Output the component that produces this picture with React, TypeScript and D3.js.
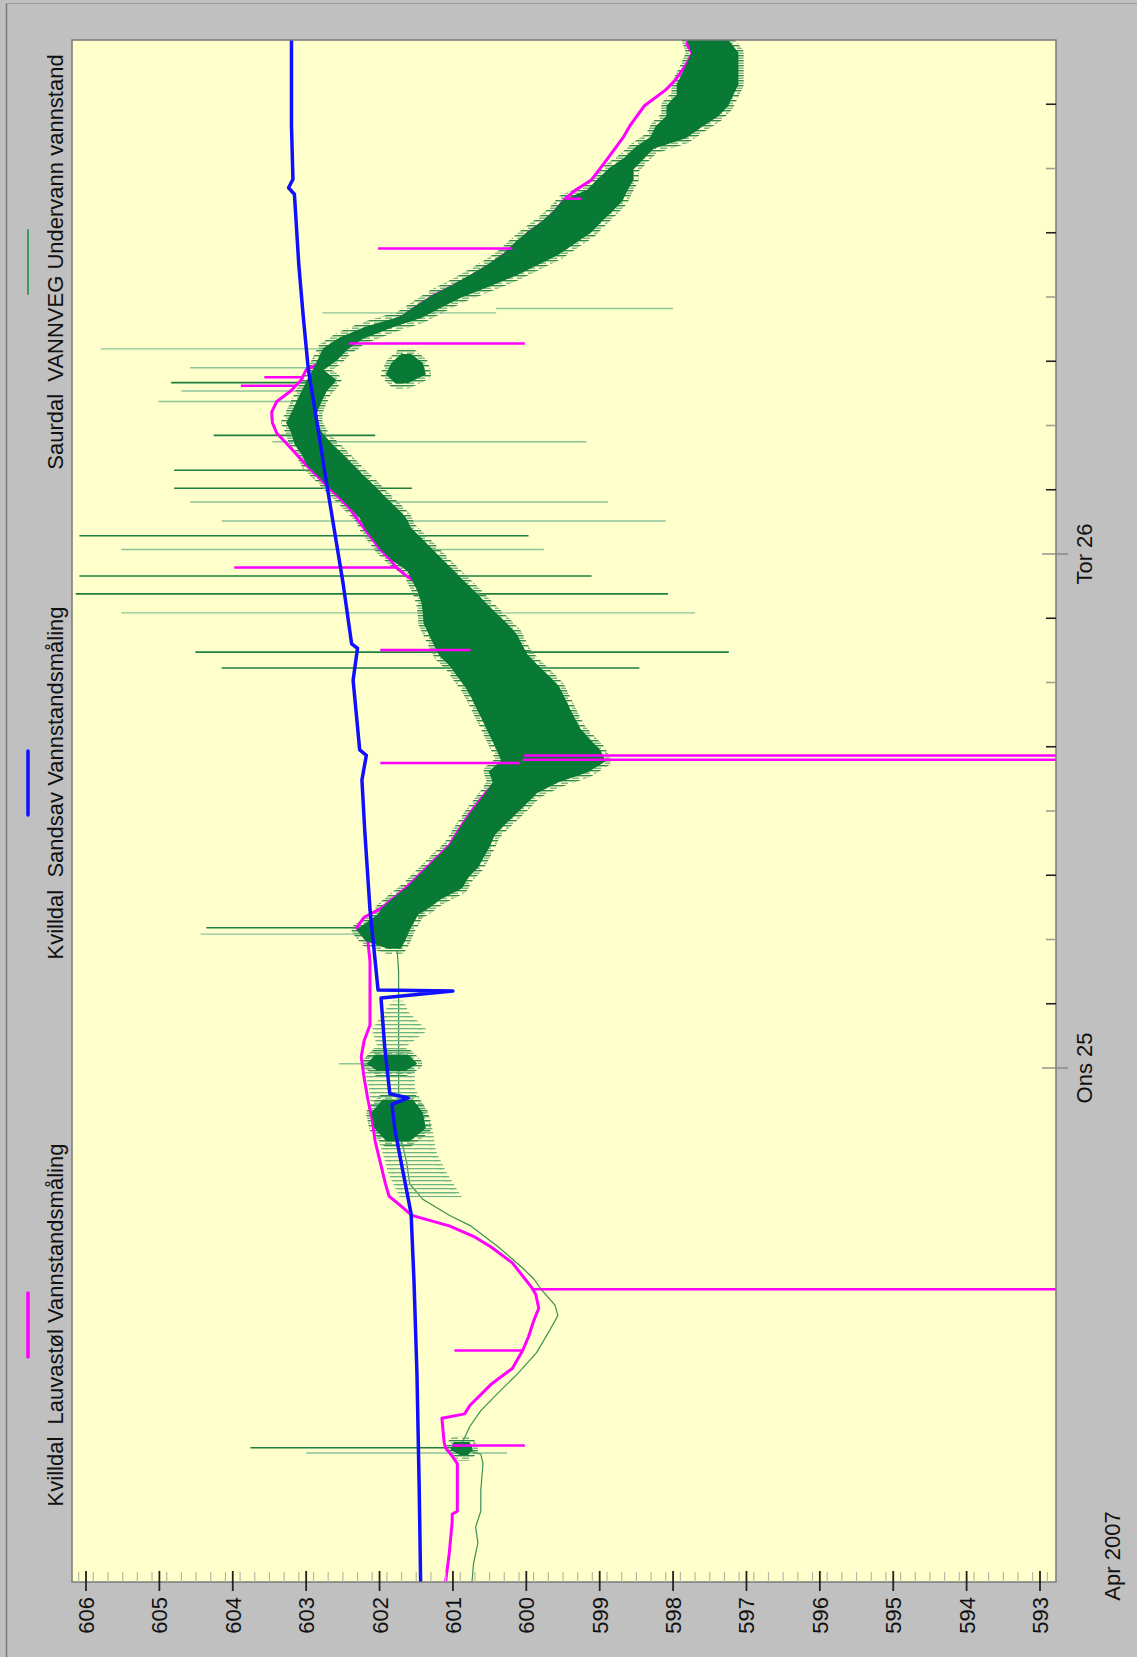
import React from 'react';
import * as d3 from 'd3';

// time = hours since Tir 24 Apr 2007 00:00, value = water level (m)
const sandsav: [number, number][] = [
  [0, 601.44], [4.5, 601.46], [9.7, 601.49], [14, 601.53], [17.2, 601.57], [19.5, 601.7],
  [21.1, 601.79], [22.3, 601.83], [22.6, 601.61], [22.8, 601.86], [25, 601.93], [27.27, 601.98],
  [27.6, 601.0], [27.64, 602.02], [31.4, 602.13], [35, 602.2], [37.45, 602.24], [38.6, 602.18],
  [38.85, 602.27], [42.1, 602.36], [43.6, 602.3], [43.8, 602.38], [46.7, 602.5], [49.2, 602.62],
  [51.7, 602.74], [54.1, 602.85], [56.6, 602.97], [59.1, 603.04], [61.5, 603.1], [64.8, 603.16],
  [65.1, 603.24], [65.5, 603.18], [68, 603.2], [72, 603.2],
];

const lauvastol: [number, number][] = [
  [0, 601.1], [1.34, 601.05], [2.82, 601.01], [3.16, 601.01], [3.31, 600.94], [5.53, 600.94],
  [5.88, 601.01], [6.27, 601.1], [6.52, 601.12], [7.65, 601.15], [7.85, 600.84], [8.24, 600.77],
  [9.23, 600.48], [9.97, 600.19], [10.81, 600.05], [11.45, 599.97], [12.19, 599.9], [12.78, 599.83],
  [13.42, 599.87], [13.77, 599.93], [14.16, 600.02], [14.9, 600.19], [15.64, 600.48], [16.14, 600.72],
  [16.63, 601.05], [17.12, 601.56], [17.62, 601.73], [18.01, 601.87], [18.6, 601.92], [19.59, 601.99],
  [20.58, 602.06], [21.57, 602.1], [22.55, 602.16], [23.54, 602.21], [24.53, 602.25], [25.27, 602.21],
  [26.01, 602.13], [27.49, 602.13], [28.97, 602.13], [29.95, 602.16], [30.55, 602.31], [31.04, 602.21],
  [31.43, 601.99], [32.03, 601.77], [32.67, 601.56], [33.65, 601.27], [34.39, 601.05], [35.38, 600.87],
  [36.12, 600.72], [36.86, 600.55], [37.6, 600.33], [38.24, 600.09], [38.74, 600.02], [39.33, 600.12],
  [40.32, 600.29], [41.3, 600.43], [42.29, 600.58], [43.28, 600.72], [44.26, 600.84], [45.25, 601.05],
  [45.99, 601.27], [46.48, 601.41], [46.97, 601.63], [47.37, 601.77], [47.72, 601.85], [48.21, 601.99],
  [49.2, 602.21], [50.18, 602.42], [51.17, 602.71], [52.16, 603.0], [53.14, 603.26], [53.64, 603.4],
  [54.13, 603.46], [54.62, 603.47], [55.12, 603.4], [55.61, 603.21], [56.11, 603.07], [56.6, 603.0],
  [57.09, 602.71], [57.83, 602.42], [58.32, 602.21], [59.06, 601.7], [59.56, 601.49], [60.05, 601.27],
  [60.54, 600.98], [60.79, 600.84], [61.53, 600.48], [62.02, 600.29], [62.27, 600.19], [63.01, 599.97],
  [63.51, 599.76], [64.0, 599.61], [64.59, 599.47], [64.99, 599.33], [65.48, 599.11], [66.47, 598.89],
  [67.45, 598.68], [68.04, 598.58], [68.93, 598.39], [69.67, 598.1], [70.17, 597.96], [70.91, 597.81],
  [71.4, 597.74], [71.79, 597.81], [72.04, 597.79],
];

// hour, value on the curve, value of the spike
const lauvastolSpikes: [number, number, number][] = [
  [6.37, 601.01, 600.02], [10.81, 600.05, 600.98], [13.67, 599.93, 592.5], [38.24, 600.09, 601.99],
  [38.39, 600.05, 592.5], [38.59, 600.03, 592.5], [43.52, 600.76, 601.99], [47.37, 601.77, 603.98],
  [55.86, 603.14, 603.89], [56.25, 603.05, 603.57], [57.83, 602.42, 600.02], [62.27, 600.19, 602.02],
  [64.59, 599.47, 599.25],
];

const undervannLine: [number, number][] = [
  [0, 600.74], [0.84, 600.72], [1.83, 600.66], [2.57, 600.69], [3.31, 600.62], [4.3, 600.62],
  [5.53, 600.59], [5.97, 600.62], [6.17, 600.84], [6.52, 600.87], [7.26, 600.77], [8.0, 600.62],
  [8.74, 600.41], [9.72, 600.12], [10.71, 599.86], [11.7, 599.69], [12.44, 599.57], [12.93, 599.61],
  [13.67, 599.8], [14.16, 599.9], [14.66, 600.05], [15.64, 600.38], [16.63, 600.76], [17.12, 601.05],
  [17.87, 601.41], [18.6, 601.59], [19.59, 601.63], [20.58, 601.7], [23.0, 601.74], [26.5, 601.74],
  [28.5, 601.74], [29.5, 601.76],
];

// sparse, light part of the noise (hour, upper value, lower value)
const undervannSparse: [number, number, number][] = [
  [18.1, 601.7, 600.95], [19.1, 601.84, 601.13], [20.08, 601.92, 601.27], [21.57, 602.06, 601.34],
  [23.04, 602.1, 601.56], [24.28, 602.2, 601.56], [25.02, 601.99, 601.7], [25.76, 602.06, 601.41],
  [26.5, 601.92, 601.63], [27.0, 601.8, 601.7],
];

// dense clusters outside the main band
const undervannClusters: [number, number, number][][] = [
  [[5.95, 600.9, 600.8], [6.2, 601.02, 600.74], [6.5, 600.98, 600.78]],
  [[20.6, 601.9, 601.6], [21.2, 602.06, 601.38], [21.9, 602.1, 601.42], [22.5, 601.95, 601.55]],
  [[23.9, 602.02, 601.65], [24.2, 602.16, 601.5], [24.6, 602.05, 601.62]],
  [[29.6, 601.88, 601.72], [29.95, 602.18, 601.66], [30.45, 602.3, 601.6], [30.94, 602.1, 601.52], [31.2, 602.0, 601.48]],
  [[56.0, 601.78, 601.62], [56.4, 601.9, 601.38], [56.9, 601.83, 601.42], [57.3, 601.7, 601.57]],
];

// hour, upper value, lower value of the dense noise band
const undervannBand: [number, number, number][] = [
  [31.2, 602.0, 601.48], [31.43, 601.97, 601.36], [31.93, 601.8, 601.16], [32.42, 601.62, 600.88],
  [32.91, 601.48, 600.8], [33.41, 601.33, 600.66], [33.9, 601.19, 600.58], [34.39, 601.04, 600.5],
  [34.89, 600.95, 600.44], [35.38, 600.86, 600.3], [35.87, 600.76, 600.15], [36.37, 600.65, 600.0],
  [36.86, 600.54, 599.86], [37.35, 600.45, 599.58], [37.85, 600.5, 599.16], [38.34, 600.33, 598.93],
  [38.83, 600.39, 599.0], [39.33, 600.46, 599.14], [39.82, 600.53, 599.27], [40.32, 600.6, 599.35],
  [40.81, 600.67, 599.42], [41.3, 600.74, 599.49], [41.79, 600.82, 599.56], [42.29, 600.93, 599.7],
  [42.78, 601.03, 599.85], [43.28, 601.18, 599.99], [43.77, 601.25, 600.07], [44.26, 601.32, 600.14],
  [44.76, 601.39, 600.28], [45.25, 601.4, 600.43], [45.74, 601.42, 600.57], [46.24, 601.47, 600.71],
  [46.73, 601.54, 600.86], [47.22, 601.61, 601.0], [47.72, 601.82, 601.15], [48.21, 601.97, 601.29],
  [48.7, 602.08, 601.43], [49.2, 602.19, 601.58], [49.69, 602.26, 601.65], [50.18, 602.4, 601.79],
  [50.68, 602.54, 601.94], [51.17, 602.69, 602.08], [51.66, 602.83, 602.23], [52.16, 602.98, 602.37],
  [52.65, 603.05, 602.51], [53.14, 603.15, 602.66], [53.64, 603.19, 602.79], [54.13, 603.26, 602.86],
  [54.62, 603.19, 602.86], [55.12, 603.12, 602.8], [55.61, 603.05, 602.73], [56.11, 602.98, 602.6],
  [56.6, 602.9, 602.78], [57.09, 602.83, 602.58], [57.58, 602.76, 602.44], [58.08, 602.54, 602.23],
  [58.57, 602.2, 601.86], [59.06, 601.72, 601.43], [59.56, 601.5, 601.15], [60.05, 601.28, 600.86],
  [60.54, 601.0, 600.5], [61.04, 600.74, 600.14], [61.53, 600.5, 599.85], [62.02, 600.3, 599.56],
  [62.52, 600.15, 599.35], [63.01, 599.98, 599.13], [63.51, 599.78, 598.99], [64.0, 599.62, 598.84],
  [64.49, 599.5, 598.7], [64.99, 599.16, 598.63], [65.48, 599.02, 598.55], [65.97, 598.87, 598.55],
  [66.47, 598.66, 598.41], [66.96, 598.51, 598.27], [67.45, 598.3, 597.83], [67.95, 598.23, 597.62],
  [68.44, 598.08, 597.4], [68.93, 598.08, 597.26], [69.43, 597.94, 597.19], [69.92, 597.94, 597.12],
  [70.41, 597.87, 597.12], [70.91, 597.8, 597.12], [71.4, 597.74, 597.12], [72.0, 597.8, 597.26],
];

// hour, from value, to value, dark (1) or light (0)
const undervannSpikes: [number, number, number, number][] = [
  [6.27, 603.76, 600.84, 1], [6.02, 603.0, 600.26, 0], [30.55, 604.36, 601.7, 1], [30.25, 604.44, 601.99, 0],
  [31.83, 601.92, 601.2, 0], [24.2, 602.55, 601.6, 0], [42.68, 604.15, 598.46, 1], [43.42, 604.51, 597.24, 1],
  [45.25, 605.52, 597.7, 0], [46.14, 606.14, 598.07, 1], [46.97, 606.09, 599.11, 1], [48.21, 605.52, 599.76, 0],
  [48.85, 606.09, 599.97, 1], [49.54, 604.15, 598.1, 0], [50.43, 604.58, 598.89, 0], [51.07, 604.8, 601.56, 1],
  [51.91, 604.8, 602.78, 1], [53.24, 603.46, 599.18, 0], [53.54, 604.26, 602.06, 1], [55.12, 605.01, 602.85, 0],
  [55.61, 604.7, 602.85, 0], [56.0, 604.84, 602.85, 1], [56.7, 604.58, 602.71, 0], [57.58, 605.8, 602.28, 0],
  [59.26, 602.78, 600.41, 0], [59.46, 600.41, 598.0, 0],
];

const valueTicks = d3.range(593, 607);
const minorTicks = d3.range(5929, 6062, 2).map(d => d / 10).filter(d => Math.abs(d - Math.round(d)) > 0.01);
const dayTicks = [
  { hour: 24, label: 'Ons 25' },
  { hour: 48, label: 'Tor 26' },
];
const hourTicks = [27, 30, 33, 36, 39, 42, 45, 51, 54, 57, 60, 63, 66, 69];

const legend = [
  { label: 'Kvilldal  Lauvastøl Vannstandsmåling', color: '#ff00ff', width: 3.5, cy: 1325 },
  { label: 'Kvilldal  Sandsav Vannstandsmåling', color: '#1010ff', width: 3.5, cy: 783 },
  { label: 'Saurdal  VANNVEG Undervann vannstand', color: '#3c9a5c', width: 2, cy: 262 },
];

const W = 1137;
const H = 1657;
const plot = { left: 72, right: 1056, top: 40, bottom: 1582 };
const font = "'Liberation Sans', Arial, sans-serif";
const darkGreen = '#087a36';

export default function App() {
  const x = d3.scaleLinear().domain([606, 593]).range([86, 1040]);
  const y = d3.scaleLinear().domain([0, 72]).range([plot.bottom, plot.top]);

  const line = d3
    .line<[number, number]>()
    .x(d => x(d[1]))
    .y(d => y(d[0]));

  const band = d3
    .area<[number, number, number]>()
    .y(d => y(d[0]))
    .x0(d => x(d[1]))
    .x1(d => x(d[2]));

  const bands = [undervannBand, ...undervannClusters];

  return (
    <svg
      width={W}
      height={H}
      style={{ position: 'absolute', left: 0, top: 0, background: '#c0c0c0' }}
      fontFamily={font}
    >
      <defs>
        <clipPath id="plotClip">
          <rect x={plot.left} y={plot.top} width={plot.right - plot.left} height={plot.bottom - plot.top} />
        </clipPath>
        <pattern id="hair" width={11} height={5} patternUnits="userSpaceOnUse">
          <rect x={0} y={0} width={11} height={1.4} fill="#2f8a4c" />
          <rect x={0} y={2.6} width={7} height={1.2} fill="#5aa872" />
        </pattern>
        <pattern id="hairLight" width={6} height={4} patternUnits="userSpaceOnUse">
          <rect x={0} y={0} width={6} height={1.3} fill="#6db582" />
        </pattern>
      </defs>
      <rect x={0} y={0} width={W} height={H} fill="#c0c0c0" />
      <line x1={6.5} y1={3} x2={6.5} y2={H} stroke="#7a7a7a" strokeWidth={1.5} />
      <line x1={6} y1={3.5} x2={W} y2={3.5} stroke="#9a9a9a" strokeWidth={1} />

      <rect
        x={plot.left}
        y={plot.top}
        width={plot.right - plot.left}
        height={plot.bottom - plot.top}
        fill="#ffffcc"
      />

      <g clipPath="url(#plotClip)">
        {undervannSpikes.map((s, i) => (
          <line
            key={'us' + i}
            x1={x(s[1])}
            x2={x(s[2])}
            y1={y(s[0])}
            y2={y(s[0])}
            stroke={s[3] ? '#1f7f3f' : '#8cc49a'}
            strokeWidth={s[3] ? 1.6 : 1.4}
          />
        ))}
        <path d={line(undervannLine) as string} fill="none" stroke="#3c8f55" strokeWidth={1.2} />
        <path d={band(undervannSparse) as string} fill="url(#hairLight)" stroke="url(#hairLight)" strokeWidth={6} />
        {bands.map((b, i) => (
          <path key={'bf' + i} d={band(b) as string} fill="none" stroke="url(#hair)" strokeWidth={12} strokeLinejoin="round" />
        ))}

        <path d={line(lauvastol) as string} fill="none" stroke="#ff00ff" strokeWidth={3} strokeLinejoin="round" />

        {bands.map((b, i) => (
          <path key={'b' + i} d={band(b) as string} fill={darkGreen} stroke={darkGreen} strokeWidth={1.5} />
        ))}

        {lauvastolSpikes.map((s, i) => (
          <line key={'ls' + i} x1={x(s[1])} x2={x(s[2])} y1={y(s[0])} y2={y(s[0])} stroke="#ff00ff" strokeWidth={2.5} />
        ))}

        <path d={line(sandsav) as string} fill="none" stroke="#1010ff" strokeWidth={3.5} strokeLinejoin="round" />
      </g>

      <rect
        x={plot.left}
        y={plot.top}
        width={plot.right - plot.left}
        height={plot.bottom - plot.top}
        fill="none"
        stroke="#7a7a7a"
        strokeWidth={1.5}
      />

      {/* value axis (bottom) */}
      {minorTicks.map(v => (
        <line key={'m' + v} x1={x(v)} x2={x(v)} y1={plot.bottom - 10} y2={plot.bottom} stroke="#b8b8a8" strokeWidth={1.2} />
      ))}
      {valueTicks.map(v => (
        <g key={'v' + v}>
          <line x1={x(v)} x2={x(v)} y1={plot.bottom - 11} y2={plot.bottom + 9} stroke="#222" strokeWidth={1.8} />
          <text
            transform={`translate(${x(v) + 8},${plot.bottom + 15}) rotate(-90)`}
            textAnchor="end"
            fontSize={22}
            fill="#111"
          >
            {v}
          </text>
        </g>
      ))}

      {/* time axis (right) */}
      {hourTicks.map(h => (
        <line
          key={'h' + h}
          x1={plot.right - 10}
          x2={plot.right}
          y1={y(h)}
          y2={y(h)}
          stroke={h % 6 === 3 ? '#222' : '#a0a090'}
          strokeWidth={1.6}
        />
      ))}
      {dayTicks.map(d => (
        <g key={'d' + d.hour}>
          <line x1={plot.right - 14} x2={plot.right + 12} y1={y(d.hour)} y2={y(d.hour)} stroke="#808080" strokeWidth={1.3} />
          <text transform={`translate(${1092},${y(d.hour)}) rotate(-90)`} textAnchor="middle" fontSize={22} fill="#111">
            {d.label}
          </text>
        </g>
      ))}
      <text transform={`translate(1120,1556) rotate(-90)`} textAnchor="middle" fontSize={22} fill="#111">
        Apr 2007
      </text>

      {/* legend */}
      {legend.map(l => (
        <g key={l.label}>
          <line x1={28} x2={28} y1={l.cy - 32} y2={l.cy + 32} stroke={l.color} strokeWidth={l.width} strokeLinecap="round" />
          <text
            transform={`translate(63,${l.cy}) rotate(-90)`}
            textAnchor="middle"
            fontSize={22}
            fill="#111"
            style={{ whiteSpace: 'pre' }}
          >
            {l.label}
          </text>
        </g>
      ))}
    </svg>
  );
}
